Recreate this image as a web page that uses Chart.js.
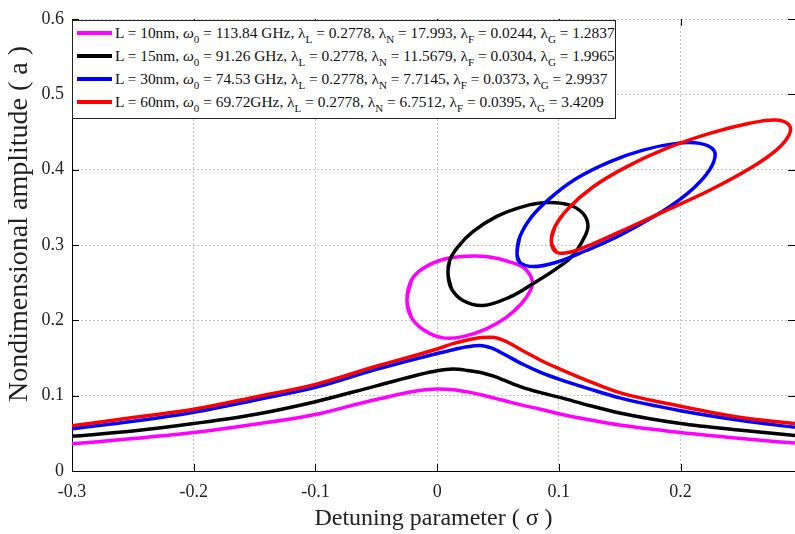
<!DOCTYPE html>
<html>
<head>
<meta charset="utf-8">
<script src="https://cdn.jsdelivr.net/npm/chart.js@4.4.1/dist/chart.umd.min.js"></script>
<style>
  body { margin: 0; background: #fff; }
  #wrap { position: relative; width: 795px; height: 534px; }
  #legend {
    position: absolute; left: 72px; top: 20px; width: 544px; height: 99px;
    box-sizing: border-box; border: 1px solid #222; background: #fff;
    font-family: "Liberation Serif", serif; font-size: 15.4px; color: #111;
  }
  .row { height: 23px; line-height: 23px; white-space: nowrap; position: relative; padding-left: 42px; }
  .row .sw { position: absolute; left: 4px; top: 10px; width: 35px; height: 4px; }
  .row sub { font-size: 11px; vertical-align: -5px; line-height: 0; }
  .row i { font-style: italic; }
</style>
</head>
<body>
<div id="wrap">
  <canvas id="chart" width="795" height="534"></canvas>
  <div id="legend"></div>
</div>
<script>
// detuning values used for the lower branches
const sigma = [-0.3, -0.25, -0.2, -0.15, -0.1, -0.05, 0, 0.013, 0.025, 0.035, 0.045, 0.055, 0.07, 0.085, 0.1, 0.125, 0.15, 0.2, 0.25, 0.294];

const lowerL10 = [0.036, 0.043, 0.051, 0.062, 0.075, 0.095, 0.1087, 0.108, 0.105, 0.1015, 0.0975, 0.0935, 0.0875, 0.082, 0.076, 0.068, 0.061, 0.051, 0.043, 0.037];
const lowerL15 = [0.046, 0.053, 0.063, 0.075, 0.092, 0.113, 0.133, 0.1353, 0.1335, 0.131, 0.1265, 0.1205, 0.111, 0.104, 0.098, 0.087, 0.077, 0.063, 0.054, 0.047];
const lowerL30 = [0.056, 0.066, 0.078, 0.094, 0.111, 0.135, 0.156, 0.161, 0.165, 0.1665, 0.163, 0.155, 0.142, 0.131, 0.122, 0.109, 0.097, 0.080, 0.067, 0.058];
const lowerL60 = [0.060, 0.071, 0.082, 0.098, 0.115, 0.139, 0.162, 0.169, 0.174, 0.177, 0.1775, 0.173, 0.160, 0.147, 0.136, 0.119, 0.104, 0.086, 0.071, 0.063];

// closed branches (isolas), read point by point going round once
const loopL10x = [-0.0248, -0.0212, -0.0117, 0.0048, 0.024, 0.043, 0.0596, 0.072, 0.0782, 0.0766, 0.0692, 0.0568, 0.0404, 0.0212, 0.0048, -0.0103, -0.0212];
const loopL10y = [0.2264, 0.253, 0.2687, 0.2807, 0.285, 0.284, 0.2776, 0.2687, 0.2523, 0.2397, 0.222, 0.204, 0.1887, 0.1784, 0.1767, 0.1864, 0.204];

const loopL15x = [0.0089, 0.0103, 0.0171, 0.0294, 0.0486, 0.0705, 0.0897, 0.1089, 0.1198, 0.1239, 0.1212, 0.1116, 0.098, 0.0787, 0.0596, 0.0376, 0.0212, 0.0117];
const loopL15y = [0.262, 0.2797, 0.2976, 0.3176, 0.3376, 0.351, 0.3563, 0.353, 0.342, 0.3264, 0.311, 0.2864, 0.2687, 0.2487, 0.2309, 0.2197, 0.2264, 0.242];

const loopL30x = [0.0656, 0.0678, 0.0774, 0.0924, 0.1144, 0.1417, 0.1691, 0.1965, 0.2157, 0.2272, 0.2272, 0.2184, 0.202, 0.1773, 0.15, 0.1226, 0.098, 0.0787, 0.0678];
const loopL30y = [0.2883, 0.3104, 0.337, 0.3616, 0.3882, 0.4104, 0.426, 0.4349, 0.4349, 0.426, 0.4104, 0.3882, 0.3637, 0.337, 0.3127, 0.2927, 0.2771, 0.2713, 0.2771];

const loopL60x = [0.0938, 0.0966, 0.1075, 0.128, 0.1555, 0.1883, 0.2239, 0.2568, 0.2787, 0.2891, 0.2891, 0.2787, 0.2568, 0.2239, 0.1883, 0.1555, 0.128, 0.1089, 0.098];
const loopL60y = [0.3037, 0.3237, 0.3482, 0.377, 0.4037, 0.4282, 0.4482, 0.4616, 0.466, 0.4593, 0.446, 0.426, 0.4016, 0.3727, 0.346, 0.3216, 0.3016, 0.2904, 0.2904];

const seriesColors = ['#ff00ff', '#000000', '#0000ff', '#ff0000'];
const legendRows = [
  'L = 10nm, <i>ω</i><sub>0</sub> = 113.84 GHz, λ<sub>L</sub> = 0.2778, λ<sub>N</sub> = 17.993, λ<sub>F</sub> = 0.0244, λ<sub>G</sub> = 1.2837',
  'L = 15nm, <i>ω</i><sub>0</sub> = 91.26 GHz, λ<sub>L</sub> = 0.2778, λ<sub>N</sub> = 11.5679, λ<sub>F</sub> = 0.0304, λ<sub>G</sub> = 1.9965',
  'L = 30nm, <i>ω</i><sub>0</sub> = 74.53 GHz, λ<sub>L</sub> = 0.2778, λ<sub>N</sub> = 7.7145, λ<sub>F</sub> = 0.0373, λ<sub>G</sub> = 2.9937',
  'L = 60nm, <i>ω</i><sub>0</sub> = 69.72GHz, λ<sub>L</sub> = 0.2778, λ<sub>N</sub> = 6.7512, λ<sub>F</sub> = 0.0395, λ<sub>G</sub> = 3.4209'
];

const xTicks = [-0.3, -0.2, -0.1, 0, 0.1, 0.2];
const xTickLabels = ['-0.3', '-0.2', '-0.1', '0', '0.1', '0.2'];
const yTicks = [0, 0.1, 0.2, 0.3, 0.4, 0.5, 0.6];
const yTickLabels = ['0', '0.1', '0.2', '0.3', '0.4', '0.5', '0.6'];

function pts(xs, ys) {
  return xs.map((x, i) => ({ x: x, y: ys[i] }));
}

// closed curve: repeat neighbours at both ends so the spline has no corner at the seam
function loopPts(xs, ys) {
  const p = pts(xs, ys);
  return [p[p.length - 1], ...p, p[0], p[1]];
}

const lowers = [lowerL10, lowerL15, lowerL30, lowerL60];
const loops = [[loopL10x, loopL10y], [loopL15x, loopL15y], [loopL30x, loopL30y], [loopL60x, loopL60y]];

// first dataset ends up on top, so red goes first
const datasets = [];
for (let k = 3; k >= 0; k--) {
  datasets.push({
    data: loopPts(loops[k][0], loops[k][1]),
    borderColor: seriesColors[k], borderWidth: 3.5,
    showLine: true, pointRadius: 0, tension: 0.4, fill: false
  });
  datasets.push({
    data: pts(sigma, lowers[k]),
    borderColor: seriesColors[k], borderWidth: 3.5,
    showLine: true, pointRadius: 0, cubicInterpolationMode: 'monotone', fill: false
  });
}

// MATLAB style inward ticks
const innerTicks = {
  id: 'innerTicks',
  afterDraw(chart) {
    const { ctx, chartArea: a, scales } = chart;
    ctx.save();
    ctx.strokeStyle = '#000';
    ctx.lineWidth = 1;
    ctx.beginPath();
    xTicks.forEach(v => {
      const px = Math.round(scales.x.getPixelForValue(v)) + 0.5;
      ctx.moveTo(px, a.bottom); ctx.lineTo(px, a.bottom - 7);
      ctx.moveTo(px, a.top); ctx.lineTo(px, a.top + 7);
    });
    yTicks.forEach(v => {
      const py = Math.round(scales.y.getPixelForValue(v)) + 0.5;
      ctx.moveTo(a.left, py); ctx.lineTo(a.left + 7, py);
      ctx.moveTo(a.right, py); ctx.lineTo(a.right - 7, py);
    });
    ctx.stroke();
    ctx.restore();
  }
};

const serif = 'Liberation Serif';

new Chart(document.getElementById('chart'), {
  type: 'scatter',
  data: { datasets: datasets },
  options: {
    responsive: false,
    animation: false,
    devicePixelRatio: 1,
    layout: { padding: { top: 19, right: 0, left: 0, bottom: 0 } },
    plugins: { legend: { display: false }, tooltip: { enabled: false } },
    scales: {
      x: {
        type: 'linear', min: -0.3, max: 0.294,
        afterBuildTicks: s => { s.ticks = xTicks.map(v => ({ value: v })); },
        afterFit: s => { s.height = 63; },
        ticks: { callback: (v, i) => xTickLabels[i], color: '#222', padding: 10, font: { family: serif, size: 18 }, maxRotation: 0 },
        grid: { color: '#c4c4c4', drawTicks: false },
        border: { display: true, color: '#000', width: 1, dash: [2, 2] },
        title: { display: true, text: 'Detuning parameter ( σ )', color: '#222', font: { family: serif, size: 24 }, padding: { top: 0, bottom: 1 } }
      },
      y: {
        type: 'linear', min: 0, max: 0.6,
        afterBuildTicks: s => { s.ticks = yTicks.map(v => ({ value: v })); },
        afterFit: s => { s.width = 72; },
        ticks: { callback: (v, i) => yTickLabels[i], color: '#222', padding: 8, font: { family: serif, size: 18 } },
        grid: { color: '#c4c4c4', drawTicks: false },
        border: { display: true, color: '#000', width: 1, dash: [2, 2] },
        title: { display: true, text: '      Nondimensional amplitude ( a )', color: '#222', font: { family: serif, size: 28 }, padding: { top: 3, bottom: 0 } }
      }
    }
  },
  plugins: [innerTicks]
});

const legendBox = document.getElementById('legend');
legendRows.forEach((html, k) => {
  const row = document.createElement('div');
  row.className = 'row';
  row.innerHTML = '<span class="sw" style="background:' + seriesColors[k] + '"></span>' + html;
  legendBox.appendChild(row);
});
</script>
</body>
</html>
